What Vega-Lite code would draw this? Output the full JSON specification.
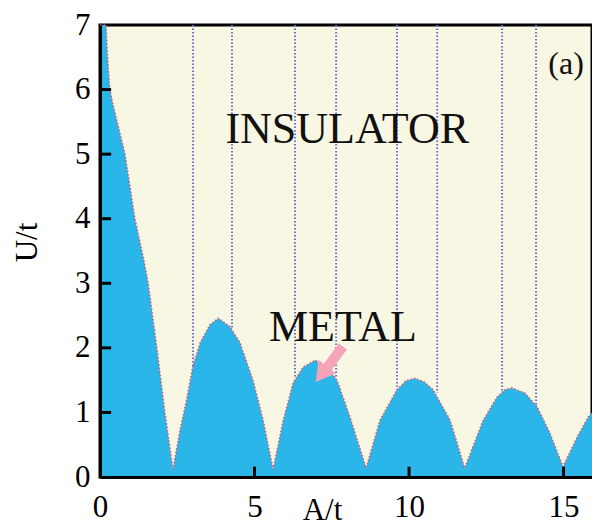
{
  "$schema": "https://vega.github.io/schema/vega-lite/v6.json",
  "width": 492,
  "height": 452,
  "autosize": {"type": "none"},
  "padding": {"left": 100, "top": 25, "right": 0, "bottom": 50},
  "background": "white",
  "config": {
    "view": {"fill": "#f8f7e3", "stroke": "black", "strokeWidth": 3},
    "font": "Liberation Serif"
  },
  "datasets": {
    "boundary": [
      {"A": 0, "U": 7}, {"A": 0.2, "U": 7}, {"A": 0.23, "U": 6.62}, {"A": 0.32, "U": 6.0},
      {"A": 0.42, "U": 5.77}, {"A": 0.81, "U": 5.0}, {"A": 1.13, "U": 4.0}, {"A": 1.42, "U": 3.36},
      {"A": 1.56, "U": 3.0}, {"A": 1.84, "U": 2.0}, {"A": 2.1, "U": 1.0}, {"A": 2.36, "U": 0.12},
      {"A": 2.6, "U": 0.75}, {"A": 2.8, "U": 1.19}, {"A": 3.0, "U": 1.7}, {"A": 3.24, "U": 2.08},
      {"A": 3.56, "U": 2.36}, {"A": 3.83, "U": 2.46}, {"A": 4.2, "U": 2.33}, {"A": 4.53, "U": 2.08},
      {"A": 4.95, "U": 1.5}, {"A": 5.28, "U": 0.88}, {"A": 5.6, "U": 0.12}, {"A": 5.93, "U": 0.88},
      {"A": 6.25, "U": 1.46}, {"A": 6.57, "U": 1.7}, {"A": 6.96, "U": 1.81}, {"A": 7.35, "U": 1.7},
      {"A": 7.67, "U": 1.5}, {"A": 8.09, "U": 0.93}, {"A": 8.61, "U": 0.14}, {"A": 9.06, "U": 0.88},
      {"A": 9.61, "U": 1.35}, {"A": 9.9, "U": 1.49}, {"A": 10.19, "U": 1.53}, {"A": 10.5, "U": 1.47},
      {"A": 10.78, "U": 1.35}, {"A": 11.33, "U": 0.88}, {"A": 11.8, "U": 0.14}, {"A": 12.4, "U": 0.88},
      {"A": 12.85, "U": 1.24}, {"A": 13.1, "U": 1.35}, {"A": 13.33, "U": 1.38}, {"A": 13.75, "U": 1.3},
      {"A": 14.14, "U": 1.09}, {"A": 14.56, "U": 0.68}, {"A": 14.98, "U": 0.16}, {"A": 15.44, "U": 0.62},
      {"A": 15.8, "U": 0.93}, {"A": 15.92, "U": 1.0}
    ],
    "vlines": [
      {"A": 3.01, "top": 7, "bottom": 1.7},
      {"A": 4.27, "top": 7, "bottom": 2.31},
      {"A": 6.31, "top": 7, "bottom": 1.53},
      {"A": 7.64, "top": 7, "bottom": 1.52},
      {"A": 9.61, "top": 7, "bottom": 1.35},
      {"A": 10.91, "top": 7, "bottom": 1.3},
      {"A": 13.01, "top": 7, "bottom": 1.34},
      {"A": 14.11, "top": 7, "bottom": 1.1}
    ],
    "xticks": [
      {"A": 5, "U": 0, "U2": 0.16},
      {"A": 10, "U": 0, "U2": 0.16},
      {"A": 15, "U": 0, "U2": 0.16}
    ],
    "yticks": [
      {"U": 1, "A": 0, "A2": 0.36},
      {"U": 2, "A": 0, "A2": 0.36},
      {"U": 3, "A": 0, "A2": 0.36},
      {"U": 4, "A": 0, "A2": 0.36},
      {"U": 5, "A": 0, "A2": 0.36},
      {"U": 6, "A": 0, "A2": 0.36}
    ],
    "labels": [
      {"A": 8.0, "U": 5.38, "text": "INSULATOR", "size": 44},
      {"A": 7.86, "U": 2.31, "text": "METAL", "size": 44},
      {"A": 15.08, "U": 6.39, "text": "(a)", "size": 32}
    ],
    "shaft": [{"A": 7.86, "U": 2.02, "A2": 7.36, "U2": 1.7}],
    "head": [{"A": 7.17, "U": 1.59}]
  },
  "layer": [
    {
      "data": {"name": "boundary"},
      "mark": {"type": "area", "color": "#2ab6e8", "opacity": 1},
      "encoding": {
        "x": {
          "field": "A", "type": "quantitative",
          "scale": {"domain": [0, 15.92], "nice": false, "zero": false},
          "axis": {
            "values": [0, 5, 10, 15], "format": "d", "title": "A/t", "grid": false, "zindex": 1,
            "domainColor": "black", "domainWidth": 3, "ticks": false,
            "labelFont": "Liberation Serif", "labelFontSize": 31, "labelColor": "black",
            "labelPadding": 15, "labelFlush": false,
            "titleFont": "Liberation Serif", "titleFontSize": 31, "titleFontWeight": "normal",
            "titleColor": "black", "titleX": 222, "titleY": 18, "titleBaseline": "top", "titleAnchor": null
          }
        },
        "y": {
          "field": "U", "type": "quantitative",
          "scale": {"domain": [0, 7], "nice": false},
          "axis": {
            "values": [0, 1, 2, 3, 4, 5, 6, 7], "format": "d", "title": "U/t", "grid": false, "zindex": 1,
            "domainColor": "black", "domainWidth": 3, "ticks": false,
            "labelFont": "Liberation Serif", "labelFontSize": 31, "labelColor": "black",
            "labelPadding": 10, "labelFlush": false,
            "titleFont": "Liberation Serif", "titleFontSize": 31, "titleFontWeight": "normal",
            "titleColor": "black", "titleX": -73, "titleY": 217, "titleAngle": -90,
            "titleAlign": "center", "titleBaseline": "middle"
          }
        }
      }
    },
    {
      "data": {"name": "boundary"},
      "mark": {"type": "line", "color": "#d9576e", "strokeWidth": 1.5, "strokeDash": [1.5, 2]},
      "encoding": {
        "x": {"field": "A", "type": "quantitative"},
        "y": {"field": "U", "type": "quantitative"}
      }
    },
    {
      "data": {"name": "vlines"},
      "mark": {"type": "rule", "color": "#6e6cd4", "strokeWidth": 2, "strokeDash": [1.5, 2]},
      "encoding": {
        "x": {"field": "A", "type": "quantitative"},
        "y": {"field": "top", "type": "quantitative"},
        "y2": {"field": "bottom"}
      }
    },
    {
      "data": {"name": "xticks"},
      "mark": {"type": "rule", "color": "black", "strokeWidth": 3},
      "encoding": {
        "x": {"field": "A", "type": "quantitative"},
        "y": {"field": "U", "type": "quantitative"},
        "y2": {"field": "U2"}
      }
    },
    {
      "data": {"name": "yticks"},
      "mark": {"type": "rule", "color": "black", "strokeWidth": 3},
      "encoding": {
        "y": {"field": "U", "type": "quantitative"},
        "x": {"field": "A", "type": "quantitative"},
        "x2": {"field": "A2"}
      }
    },
    {
      "data": {"name": "labels"},
      "mark": {"type": "text", "font": "Liberation Serif", "color": "#111111", "align": "center", "baseline": "middle"},
      "encoding": {
        "x": {"field": "A", "type": "quantitative"},
        "y": {"field": "U", "type": "quantitative"},
        "text": {"field": "text"},
        "size": {"field": "size", "type": "quantitative", "scale": null}
      }
    },
    {
      "data": {"name": "shaft"},
      "mark": {"type": "rule", "color": "#f4a3b8", "strokeWidth": 10, "strokeCap": "butt"},
      "encoding": {
        "x": {"field": "A", "type": "quantitative"},
        "y": {"field": "U", "type": "quantitative"},
        "x2": {"field": "A2"},
        "y2": {"field": "U2"}
      }
    },
    {
      "data": {"name": "head"},
      "mark": {"type": "point", "shape": "triangle-up", "filled": true, "color": "#f4a3b8", "opacity": 1, "size": 500, "angle": 217},
      "encoding": {
        "x": {"field": "A", "type": "quantitative"},
        "y": {"field": "U", "type": "quantitative"}
      }
    }
  ]
}
